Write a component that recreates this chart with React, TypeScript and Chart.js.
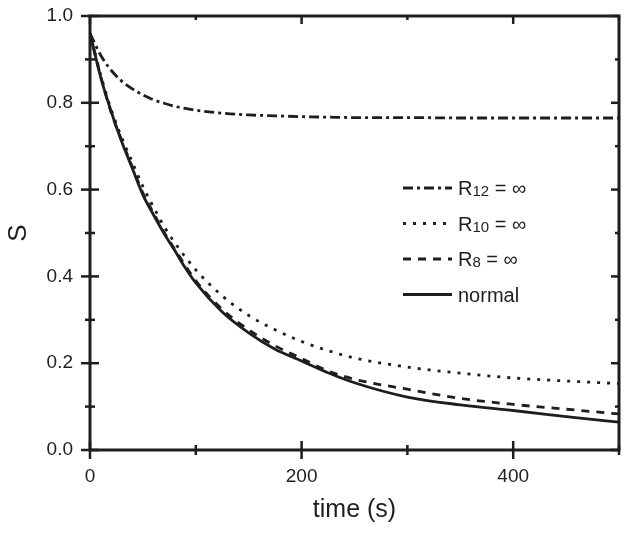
import React, { useEffect, useRef } from "react";
import { Chart, registerables } from "chart.js";

Chart.register(...registerables);

// ---- data ----
const timeS = [0, 10, 20, 30, 40, 50, 60, 70, 80, 90, 100, 125, 150, 175, 200, 225, 250, 300, 350, 400, 450, 500];
const sR12 = [0.96, 0.91, 0.875, 0.85, 0.832, 0.818, 0.807, 0.799, 0.792, 0.787, 0.783, 0.776, 0.772, 0.77, 0.768, 0.767, 0.766, 0.766, 0.765, 0.765, 0.765, 0.765];
const sR10 = [0.96, 0.865, 0.785, 0.72, 0.663, 0.607, 0.56, 0.515, 0.478, 0.445, 0.415, 0.355, 0.31, 0.277, 0.25, 0.229, 0.212, 0.191, 0.177, 0.166, 0.159, 0.153];
const sR8 = [0.96, 0.862, 0.778, 0.713, 0.652, 0.592, 0.546, 0.502, 0.463, 0.425, 0.39, 0.324, 0.277, 0.24, 0.211, 0.182, 0.163, 0.14, 0.119, 0.105, 0.094, 0.083];
const sNormal = [0.96, 0.86, 0.78, 0.71, 0.649, 0.588, 0.542, 0.499, 0.46, 0.42, 0.385, 0.318, 0.27, 0.232, 0.205, 0.178, 0.155, 0.122, 0.104, 0.091, 0.077, 0.064];

const seriesLabels = ["R12 = ∞", "R10 = ∞", "R8 = ∞", "normal"];
const xTickLabels = ["0", "200", "400"];
const yTickLabels = ["0.0", "0.2", "0.4", "0.6", "0.8", "1.0"];
const xTitle = "time (s)";
const yTitle = "S";

const INK = "#1e1e1e";
const FAMILY = '"Liberation Sans", Arial, Helvetica, sans-serif';

const pts = (ys: number[]) => timeS.map((t, i) => ({ x: t, y: ys[i] }));

const framePlugin = {
  id: "frameTicks",
  afterDraw(chart: any) {
    const { ctx, chartArea: a, scales } = chart;
    const xs = scales.x;
    const ys = scales.y;
    const seg = (x1: number, y1: number, x2: number, y2: number) => {
      ctx.beginPath();
      ctx.moveTo(x1, y1);
      ctx.lineTo(x2, y2);
      ctx.stroke();
    };
    ctx.save();
    ctx.strokeStyle = INK;
    ctx.lineWidth = 3;
    ctx.strokeRect(a.left, a.top, a.right - a.left, a.bottom - a.top);
    ctx.lineWidth = 2.5;
    xs.ticks.forEach((t: any) => {
      const px = xs.getPixelForValue(t.value);
      const major = t.label !== "" && t.label != null;
      const len = major ? 9 : 5;
      seg(px, a.bottom - len, px, a.bottom + len);
      seg(px, a.top, px, a.top + (major ? 8 : 4));
    });
    ys.ticks.forEach((t: any) => {
      const py = ys.getPixelForValue(t.value);
      const major = t.label !== "" && t.label != null;
      const len = major ? 9 : 5;
      seg(a.left - len, py, a.left + len, py);
      seg(a.right - (major ? 8 : 4), py, a.right, py);
    });
    ctx.restore();
  },
};

const legendPlugin = {
  id: "innerLegend",
  afterDatasetsDraw(chart: any) {
    const { ctx, chartArea: a } = chart;
    const x0 = a.left + 313;
    const x1 = a.left + 362;
    const tx = a.left + 368;
    const baseTop = a.top + 179;
    const step = 35.5;
    chart.data.datasets.forEach((ds: any, i: number) => {
      const by = baseTop + i * step;
      ctx.save();
      ctx.strokeStyle = ds.borderColor;
      ctx.lineWidth = ds.borderWidth;
      ctx.setLineDash(ds.borderDash || []);
      ctx.beginPath();
      ctx.moveTo(x0, by - 7);
      ctx.lineTo(x1, by - 7);
      ctx.stroke();
      ctx.setLineDash([]);
      ctx.fillStyle = INK;
      ctx.textBaseline = "alphabetic";
      ctx.textAlign = "left";
      const label: string = ds.label;
      const m = label.match(/^([A-Za-z]+)(\d+)(.*)$/);
      if (m) {
        ctx.font = `20px ${FAMILY}`;
        ctx.fillText(m[1], tx, by);
        let cx = tx + ctx.measureText(m[1]).width;
        ctx.font = `15px ${FAMILY}`;
        ctx.fillText(m[2], cx, by + 1);
        cx += ctx.measureText(m[2]).width;
        ctx.font = `20px ${FAMILY}`;
        ctx.fillText(m[3], cx, by);
      } else {
        ctx.font = `20px ${FAMILY}`;
        ctx.fillText(label, tx, by);
      }
      ctx.restore();
    });
  },
};

const zeroPad = (s: any) => {
  s.paddingTop = 0;
  s.paddingBottom = 0;
  s.paddingLeft = 0;
  s.paddingRight = 0;
};

export default function App() {
  const ref = useRef<HTMLCanvasElement | null>(null);

  useEffect(() => {
    document.body.style.margin = "0";
    const canvas = ref.current;
    if (!canvas) return;
    const common = {
      borderColor: INK,
      borderWidth: 2.8,
      pointRadius: 0,
      fill: false,
      cubicInterpolationMode: "monotone" as const,
    };
    const chart = new Chart(canvas, {
      type: "line",
      data: {
        datasets: [
          { ...common, label: seriesLabels[0], data: pts(sR12), borderDash: [10, 4, 3, 4] },
          { ...common, label: seriesLabels[1], data: pts(sR10), borderDash: [3, 7] },
          { ...common, label: seriesLabels[2], data: pts(sR8), borderDash: [8, 7] },
          { ...common, label: seriesLabels[3], data: pts(sNormal) },
        ],
      },
      options: {
        animation: false,
        responsive: false,
        devicePixelRatio: 1,
        parsing: true,
        layout: { padding: { top: 16, right: 10, left: 0, bottom: 0 } },
        plugins: {
          legend: { display: false },
          tooltip: { enabled: false },
        },
        scales: {
          x: {
            type: "linear",
            min: 0,
            max: 500,
            grid: { display: false, drawTicks: false },
            border: { display: false },
            ticks: {
              stepSize: 100,
              autoSkip: false,
              maxRotation: 0,
              padding: 15,
              color: INK,
              font: { size: 19, family: FAMILY },
              callback: (v: any) => (xTickLabels.includes(String(v)) ? String(v) : ""),
            },
            title: {
              display: true,
              text: xTitle,
              color: INK,
              font: { size: 25, family: FAMILY },
              padding: { top: 0, bottom: 10 },
            },
            afterFit: (s: any) => {
              s.height = 85;
              zeroPad(s);
            },
          },
          y: {
            type: "linear",
            min: 0,
            max: 1,
            grid: { display: false, drawTicks: false },
            border: { display: false },
            ticks: {
              stepSize: 0.1,
              autoSkip: false,
              padding: 17,
              color: INK,
              font: { size: 19, family: FAMILY },
              callback: (v: any) => {
                const s = Number(v).toFixed(1);
                return yTickLabels.includes(s) && Math.round(Number(v) * 10) % 2 === 0 ? s : "";
              },
            },
            title: {
              display: true,
              text: yTitle,
              color: INK,
              font: { size: 26, family: FAMILY },
              padding: { top: 3, bottom: 0 },
            },
            afterFit: (s: any) => {
              s.width = 90;
              zeroPad(s);
            },
          },
        },
      },
      plugins: [framePlugin, legendPlugin],
    });
    return () => chart.destroy();
  }, []);

  return (
    <div style={{ width: 629, height: 535, background: "#fff" }}>
      <canvas ref={ref} width={629} height={535} />
    </div>
  );
}
